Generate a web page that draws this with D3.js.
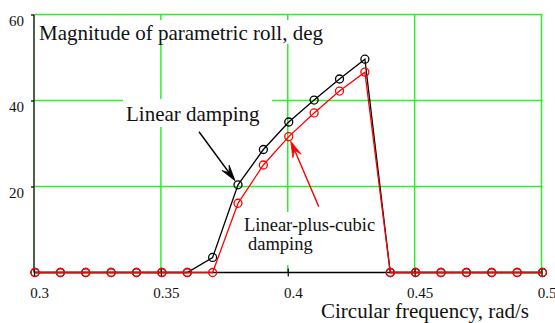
<!DOCTYPE html>
<html>
<head>
<meta charset="utf-8">
<script src="https://cdn.jsdelivr.net/npm/d3@7"></script>
<style>
  html, body { margin: 0; padding: 0; background: #fff; }
  svg { display: block; }
  svg text { font-family: "Liberation Serif", "Times New Roman", serif; fill: #111; }
</style>
</head>
<body>
<svg id="chart" width="555" height="323"></svg>
<script>
// Circular frequency samples, rad/s
const frequency = [0.30, 0.31, 0.32, 0.33, 0.34, 0.35, 0.36, 0.37, 0.38, 0.39, 0.40,
                   0.41, 0.42, 0.43, 0.44, 0.45, 0.46, 0.47, 0.48, 0.49, 0.50];
// Roll amplitude with linear damping, deg
const linearDamping = [0, 0, 0, 0, 0, 0, 0, 3.5, 20.4, 28.6, 35.0,
                       40.1, 45.0, 49.6, 0, 0, 0, 0, 0, 0, 0];
// Roll amplitude with linear-plus-cubic damping, deg
const cubicDamping = [0, 0, 0, 0, 0, 0, 0, 0, 16.1, 25.0, 31.6,
                      37.1, 42.2, 46.6, 0, 0, 0, 0, 0, 0, 0];
const xTicks = [0.3, 0.35, 0.4, 0.45, 0.5];
const xTickLabels = ["0.3", "0.35", "0.4", "0.45", "0.5"];
const yTicks = [20, 40, 60];
const yTickLabels = ["20", "40", "60"];

const svg = d3.select("#chart");
const x = d3.scaleLinear().domain([0.3, 0.5]).range([35, 542.5]);
const y = d3.scaleLinear().domain([0, 60]).range([272.5, 14.5]);
const green = "#2cf02c";
const serif = "'Liberation Serif', 'Times New Roman', serif";

// grid
const grid = svg.append("g");
grid.selectAll("line.h").data(yTicks).join("line")
  .attr("x1", x(0.3)).attr("x2", x(0.5))
  .attr("y1", d => y(d)).attr("y2", d => y(d))
  .attr("stroke", green).attr("stroke-width", 1.5);
grid.selectAll("line.v").data(xTicks.slice(1)).join("line")
  .attr("x1", d => x(d) - 1).attr("x2", d => x(d) - 1)
  .attr("y1", y(60)).attr("y2", y(0))
  .attr("stroke", green).attr("stroke-width", 1.5);

// white panels behind the annotation text
const panels = [
  [36, 20, 294, 24],
  [123, 99, 149, 28],
  [240, 212, 139, 53]
];
svg.append("g").selectAll("rect").data(panels).join("rect")
  .attr("x", d => d[0]).attr("y", d => d[1])
  .attr("width", d => d[2]).attr("height", d => d[3])
  .attr("fill", "#fff");

// axes
const xAxis = svg.append("g").attr("transform", `translate(0,${y(0)})`)
  .call(d3.axisBottom(x).tickValues(xTicks).tickSize(4).tickFormat((d, i) => xTickLabels[i]))
  .attr("font-family", serif).attr("font-size", 15);
xAxis.select(".domain").attr("d", `M${x(0.3)},0H${x(0.5)}`).attr("stroke", "#000").attr("stroke-width", 1.3);
xAxis.selectAll(".tick line").attr("y1", -4).attr("y2", 4).attr("stroke", "#000").attr("stroke-width", 1.2)
  .attr("transform", "translate(-1,0)");
xAxis.selectAll(".tick text").attr("y", 25.5).attr("dy", 0).attr("dx", 4)
  .attr("font-family", serif).attr("font-size", 15).attr("fill", "#222");

const yAxis = svg.append("g").attr("transform", `translate(${x(0.3) - 1},0)`)
  .call(d3.axisLeft(y).tickValues(yTicks).tickSize(3).tickFormat((d, i) => yTickLabels[i]))
  .attr("font-family", serif).attr("font-size", 15);
yAxis.select(".domain").attr("d", `M0,${y(60)}V${y(0)}`).attr("stroke", "#0c2a0c").attr("stroke-width", 1.5);
yAxis.selectAll(".tick line").attr("stroke", "#000").attr("stroke-width", 1.2);
yAxis.selectAll(".tick text").attr("x", -10).attr("dy", "0.72em")
  .attr("font-family", serif).attr("font-size", 15).attr("fill", "#222");

// series
function drawSeries(values, color) {
  const pts = frequency.map((f, i) => [f, values[i]]);
  const line = d3.line().x(d => x(d[0])).y(d => y(d[1]));
  svg.append("path").datum(pts).attr("d", line)
    .attr("fill", "none").attr("stroke", color).attr("stroke-width", 1.3);
  svg.append("g").selectAll("circle").data(pts).join("circle")
    .attr("cx", d => x(d[0])).attr("cy", d => y(d[1])).attr("r", 4)
    .attr("fill", "none").attr("stroke", color).attr("stroke-width", 1.3);
}
drawSeries(linearDamping, "#000");
drawSeries(cubicDamping, "#ff0000");

// annotation arrows pointing at a sample of each series
function arrow(tail, target, color) {
  const dx = target[0] - tail[0], dy = target[1] - tail[1];
  const len = Math.hypot(dx, dy), ux = dx / len, uy = dy / len;
  const tip = [target[0] - ux * 5, target[1] - uy * 5];
  const L = 16, W = 4.5, N = 0.62;
  const base = [tip[0] - ux * L, tip[1] - uy * L];
  const notch = [tip[0] - ux * L * N, tip[1] - uy * L * N];
  svg.append("line")
    .attr("x1", tail[0]).attr("y1", tail[1]).attr("x2", notch[0]).attr("y2", notch[1])
    .attr("stroke", color).attr("stroke-width", 1.4);
  svg.append("path")
    .attr("d", `M${tip[0]},${tip[1]}L${base[0] - uy * W},${base[1] + ux * W}L${notch[0]},${notch[1]}L${base[0] + uy * W},${base[1] - ux * W}Z`)
    .attr("fill", color).attr("stroke", color).attr("stroke-width", 0.8);
}
const i38 = frequency.indexOf(0.38), i40 = frequency.indexOf(0.40);
const pBlack = [x(frequency[i38]), y(linearDamping[i38])];
const pRed = [x(frequency[i40]), y(cubicDamping[i40])];
arrow([pBlack[0] - 39, pBlack[1] - 53], pBlack, "#000");
arrow([pRed[0] + 30, pRed[1] + 70], pRed, "#ff0000");

// labels
const labels = svg.append("g").attr("font-family", serif);
labels.append("text").attr("x", 39).attr("y", 40).attr("font-size", 21)
  .text("Magnitude of parametric roll, deg");
labels.append("text").attr("x", 126).attr("y", 120.5).attr("font-size", 21)
  .text("Linear damping");
labels.append("text").attr("x", 244).attr("y", 231).attr("font-size", 18.5)
  .text("Linear-plus-cubic");
labels.append("text").attr("x", 248).attr("y", 249.5).attr("font-size", 18.5)
  .text("damping");
labels.append("text").attr("x", 321).attr("y", 317.5).attr("font-size", 21)
  .text("Circular frequency, rad/s");
</script>
</body>
</html>
